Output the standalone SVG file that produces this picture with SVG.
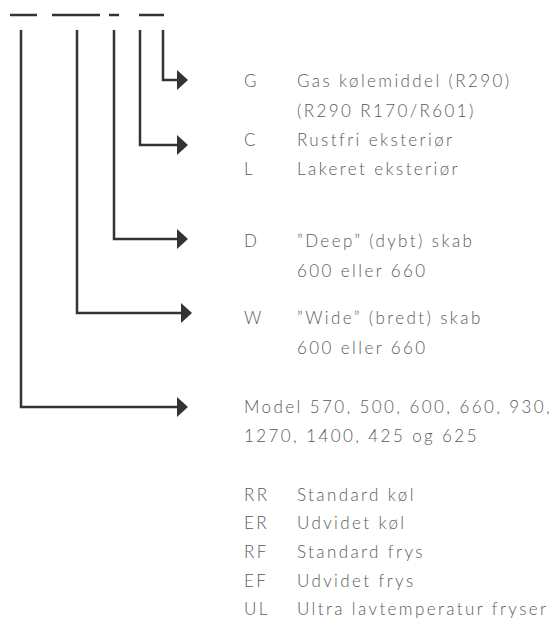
<svg xmlns="http://www.w3.org/2000/svg" width="559" height="620" viewBox="0 0 559 620">
<defs>
<style>
.t{font-family:Lato,"Open Sans","Liberation Sans",sans-serif;font-weight:300;font-size:17px;fill:#5a5a5a;letter-spacing:2.4px}
.c{fill:none;stroke:#333;stroke-width:2.5}
.d{stroke:#333;stroke-width:2.5}
</style>
<marker id="ah" viewBox="0 0 11 20" refX="3" refY="10" markerWidth="11" markerHeight="20" markerUnits="userSpaceOnUse" orient="auto">
<path d="M0,0 L11,10 L0,20 Z" fill="#333"/>
</marker>
</defs>
<rect width="559" height="620" fill="#fff"/>
<g id="code-dashes">
<line class="d" x1="10" y1="15" x2="37" y2="15"/>
<line class="d" x1="52" y1="15" x2="100" y2="15"/>
<line class="d" x1="109" y1="15" x2="119" y2="15"/>
<line class="d" x1="139" y1="15" x2="164" y2="15"/>
</g>
<g id="connectors">
<path class="c" d="M163,30 V80 H180" marker-end="url(#ah)"/>
<path class="c" d="M140,30 V145 H180" marker-end="url(#ah)"/>
<path class="c" d="M114,30 V239 H180" marker-end="url(#ah)"/>
<path class="c" d="M77,30 V313 H184" marker-end="url(#ah)"/>
<path class="c" d="M21,30 V407 H180" marker-end="url(#ah)"/>
</g>
<g id="node-gas">
<text class="t" x="244" y="87">G</text>
<text class="t" x="297" y="87">Gas kølemiddel (R290)</text>
<text class="t" x="297" y="117">(R290 R170/R601)</text>
</g>
<g id="node-exterior">
<text class="t" x="244" y="146">C</text>
<text class="t" x="297" y="146">Rustfri eksteriør</text>
<text class="t" x="244" y="175">L</text>
<text class="t" x="297" y="175">Lakeret eksteriør</text>
</g>
<g id="node-deep">
<text class="t" x="244" y="247">D</text>
<text class="t" x="297" y="247">”Deep” (dybt) skab</text>
<text class="t" x="297" y="277">600 eller 660</text>
</g>
<g id="node-wide">
<text class="t" x="244" y="324">W</text>
<text class="t" x="297" y="324">”Wide” (bredt) skab</text>
<text class="t" x="297" y="354">600 eller 660</text>
</g>
<g id="node-model">
<text class="t" x="244" y="413">Model 570, 500, 600, 660, 930,</text>
<text class="t" x="244" y="442">1270, 1400, 425 og 625</text>
<text class="t" x="244" y="501">RR</text>
<text class="t" x="297" y="501">Standard køl</text>
<text class="t" x="244" y="529">ER</text>
<text class="t" x="297" y="529">Udvidet køl</text>
<text class="t" x="244" y="558">RF</text>
<text class="t" x="297" y="558">Standard frys</text>
<text class="t" x="244" y="587">EF</text>
<text class="t" x="297" y="587">Udvidet frys</text>
<text class="t" x="244" y="615">UL</text>
<text class="t" x="297" y="615">Ultra lavtemperatur fryser</text>
</g>
</svg>
